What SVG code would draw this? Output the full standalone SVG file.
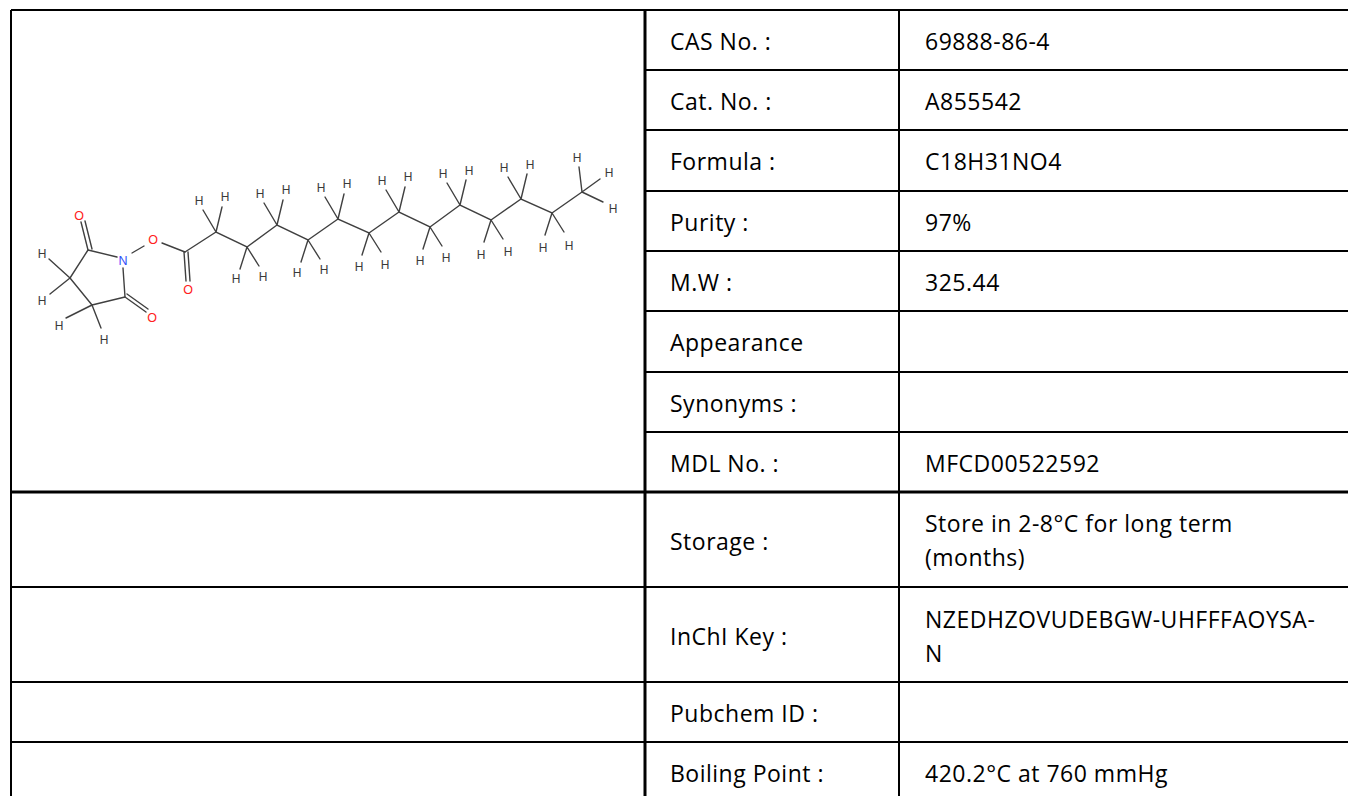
<svg xmlns="http://www.w3.org/2000/svg" width="1348" height="796" viewBox="0 0 1348 796">
<style>
.grid{stroke:#000;stroke-width:2;fill:none}
.thick{stroke:#000;stroke-width:3;fill:none}
.t{font-family:"Open Sans","Noto Sans",sans-serif;font-size:23px;letter-spacing:0.5px;fill:#000}
.b{stroke:#404040;stroke-width:1.4;fill:none;stroke-linecap:round}
.h{font-family:"Liberation Sans",Arial,sans-serif;font-size:12px;fill:#3a3a3a;text-anchor:middle}
.o{font-family:"Liberation Sans",Arial,sans-serif;font-size:12.5px;fill:#ff2020;text-anchor:middle}
.n{font-family:"Liberation Sans",Arial,sans-serif;font-size:12.5px;fill:#3050f8;text-anchor:middle}
</style>
<rect width="1348" height="796" fill="#fff"/>
<g id="table">
<line class="grid" x1="11" y1="10" x2="1348" y2="10"/>
<line class="grid" x1="11" y1="10" x2="11" y2="796"/>
<line class="thick" x1="645" y1="10" x2="645" y2="796"/>
<line class="grid" x1="899" y1="10" x2="899" y2="796"/>
<line class="grid" x1="645" y1="70" x2="1348" y2="70"/>
<line class="grid" x1="645" y1="130" x2="1348" y2="130"/>
<line class="grid" x1="645" y1="191" x2="1348" y2="191"/>
<line class="grid" x1="645" y1="251" x2="1348" y2="251"/>
<line class="grid" x1="645" y1="311" x2="1348" y2="311"/>
<line class="grid" x1="645" y1="372" x2="1348" y2="372"/>
<line class="grid" x1="645" y1="432" x2="1348" y2="432"/>
<line class="thick" x1="11" y1="492" x2="1348" y2="492"/>
<line class="grid" x1="11" y1="587" x2="1348" y2="587"/>
<line class="grid" x1="11" y1="682" x2="1348" y2="682"/>
<line class="grid" x1="11" y1="742" x2="1348" y2="742"/>
</g>
<g id="labels">
<text class="t" x="670" y="50">CAS No. :</text>
<text class="t" x="925" y="50">69888-86-4</text>
<text class="t" x="670" y="110">Cat. No. :</text>
<text class="t" x="925" y="110">A855542</text>
<text class="t" x="670" y="170">Formula :</text>
<text class="t" x="925" y="170">C18H31NO4</text>
<text class="t" x="670" y="231">Purity :</text>
<text class="t" x="925" y="231">97%</text>
<text class="t" x="670" y="291">M.W :</text>
<text class="t" x="925" y="291">325.44</text>
<text class="t" x="670" y="351">Appearance</text>
<text class="t" x="670" y="412">Synonyms :</text>
<text class="t" x="670" y="472">MDL No. :</text>
<text class="t" x="925" y="472">MFCD00522592</text>
<text class="t" x="670" y="550">Storage :</text>
<text class="t" x="925" y="532">Store in 2-8°C for long term</text>
<text class="t" x="925" y="566">(months)</text>
<text class="t" x="670" y="645">InChI Key :</text>
<text class="t" x="925" y="628">NZEDHZOVUDEBGW-UHFFFAOYSA-</text>
<text class="t" x="925" y="662">N</text>
<text class="t" x="670" y="722">Pubchem ID :</text>
<text class="t" x="670" y="782">Boiling Point :</text>
<text class="t" x="925" y="782">420.2°C at 760 mmHg</text>
</g>
<g id="molecule">
<path class="b" d="M88,250 L117,257 M123,268 L125,297 M125,297 L92,305 M92,305 L70,278 M70,278 L88,250"/>
<path class="b" d="M88,250 L81,222 M92,249 L85,221"/>
<path class="b" d="M125,297 L146,312 M127,294 L148,309"/>
<path class="b" d="M70,278 L49,259 M70,278 L50,294 M92,305 L66,318 M92,305 L101,328"/>
<path class="b" d="M132,253 L144,246 M162,243 L185,252"/>
<path class="b" d="M184,252 L186,281 M188,252 L190,281"/>
<path class="b" d="M185,252 L216,232 L247,247 L277,225 L308,240 L338,219 L369,233 L399,212 L430,227 L460,205 L491,220 L521,199 L552,213 L582,192"/>
<g id="hbonds" class="b">
<path d="M216,232 L203,210 M216,232 L222,207"/>
<path d="M277,225 L264,203 M277,225 L283,200"/>
<path d="M338,219 L325,197 M338,219 L344,194"/>
<path d="M399,212 L386,190 M399,212 L405,187"/>
<path d="M460,205 L447,183 M460,205 L466,180"/>
<path d="M521,199 L508,177 M521,199 L527,174"/>
<path d="M247,247 L240,269 M247,247 L259,266"/>
<path d="M308,240 L301,262 M308,240 L320,259"/>
<path d="M369,233 L362,255 M369,233 L381,252"/>
<path d="M430,227 L423,249 M430,227 L442,246"/>
<path d="M491,220 L484,242 M491,220 L503,239"/>
<path d="M552,213 L545,235 M552,213 L564,232"/>
<path d="M582,192 L579,167 M582,192 L600,179 M582,192 L603,202"/>
</g>
<text class="o" x="79" y="220">O</text>
<text class="n" x="123" y="265">N</text>
<text class="o" x="152" y="322">O</text>
<text class="o" x="153" y="244">O</text>
<text class="o" x="188" y="294">O</text>
<text class="h" x="42" y="258">H</text>
<text class="h" x="42" y="305">H</text>
<text class="h" x="59" y="330">H</text>
<text class="h" x="104" y="344">H</text>
<text class="h" x="199" y="205">H</text>
<text class="h" x="225" y="201">H</text>
<text class="h" x="260" y="198">H</text>
<text class="h" x="286" y="194">H</text>
<text class="h" x="321" y="192">H</text>
<text class="h" x="347" y="188">H</text>
<text class="h" x="382" y="185">H</text>
<text class="h" x="408" y="181">H</text>
<text class="h" x="443" y="178">H</text>
<text class="h" x="469" y="175">H</text>
<text class="h" x="504" y="172">H</text>
<text class="h" x="530" y="169">H</text>
<text class="h" x="577" y="162">H</text>
<text class="h" x="609" y="177">H</text>
<text class="h" x="613" y="213">H</text>
<text class="h" x="236" y="283">H</text>
<text class="h" x="263" y="281">H</text>
<text class="h" x="297" y="277">H</text>
<text class="h" x="324" y="274">H</text>
<text class="h" x="359" y="271">H</text>
<text class="h" x="385" y="269">H</text>
<text class="h" x="420" y="265">H</text>
<text class="h" x="446" y="262">H</text>
<text class="h" x="481" y="259">H</text>
<text class="h" x="508" y="256">H</text>
<text class="h" x="543" y="252">H</text>
<text class="h" x="569" y="250">H</text>
</g>
</svg>
